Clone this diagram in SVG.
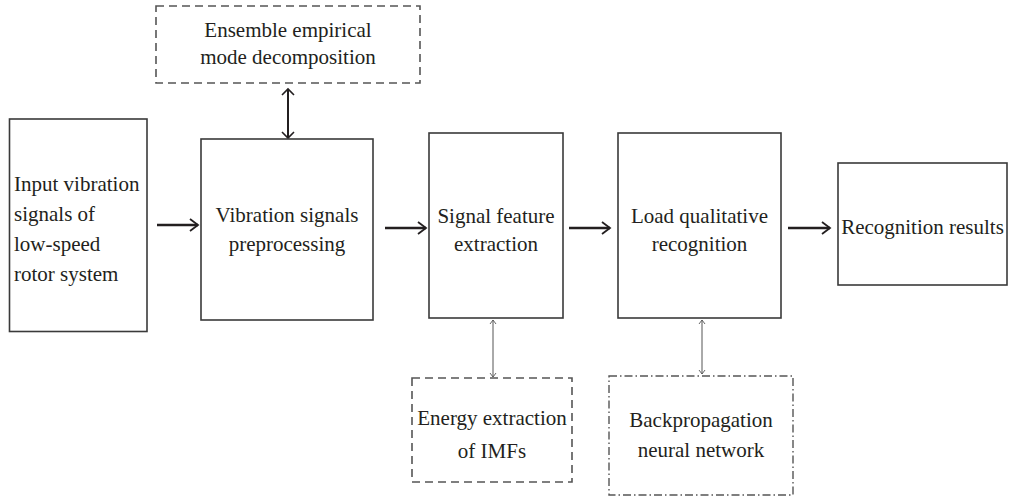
<svg xmlns="http://www.w3.org/2000/svg" width="1009" height="498" viewBox="0 0 1009 498">
  <style>
    .box { fill: #ffffff; stroke: #3a3a3a; stroke-width: 1.6; }
    .dash { fill: #ffffff; stroke: #555555; stroke-width: 1.6; stroke-dasharray: 8 5; }
    .dashdot { fill: #ffffff; stroke: #555555; stroke-width: 1.4; stroke-dasharray: 8 3 1.5 3; }
    .t { font-family: "Liberation Serif", "Times New Roman", serif; font-size: 21px; fill: #231f20; }
    .c { text-anchor: middle; }
    .thick { stroke: #231f20; stroke-width: 2.6; fill: none; }
    .mid { stroke: #231f20; stroke-width: 2; fill: none; }
    .thin { stroke: #555555; stroke-width: 1; fill: none; }
  </style>
  <defs>
    <marker id="ah" markerUnits="userSpaceOnUse" markerWidth="12" markerHeight="14" refX="9" refY="7" orient="auto" overflow="visible">
      <path d="M1,1 L9,7 L1,13" fill="none" stroke="#231f20" stroke-width="1.8"/>
    </marker>
    <marker id="am" markerUnits="userSpaceOnUse" markerWidth="12" markerHeight="14" refX="7" refY="7" orient="auto-start-reverse" overflow="visible">
      <path d="M1,1 L7,7 L1,13" fill="none" stroke="#231f20" stroke-width="1.6"/>
    </marker>
    <marker id="as" markerUnits="userSpaceOnUse" markerWidth="8" markerHeight="8" refX="5" refY="3.5" orient="auto-start-reverse" overflow="visible">
      <path d="M1,0.5 L5,3.5 L1,6.5" fill="none" stroke="#555555" stroke-width="0.9"/>
    </marker>
  </defs>

  <g id="connectors">
    <line class="thick" x1="157" y1="225" x2="198" y2="225" marker-end="url(#ah)"/>
    <line class="thick" x1="385" y1="228" x2="426" y2="228" marker-end="url(#ah)"/>
    <line class="thick" x1="569" y1="228" x2="610" y2="228" marker-end="url(#ah)"/>
    <line class="thick" x1="788" y1="228" x2="830" y2="228" marker-end="url(#ah)"/>
    <line class="mid" x1="288" y1="89" x2="288" y2="138" marker-start="url(#am)" marker-end="url(#am)"/>
    <line class="thin" x1="493" y1="320" x2="493" y2="377" marker-start="url(#as)" marker-end="url(#as)"/>
    <line class="thin" x1="702" y1="320" x2="702" y2="374" marker-start="url(#as)" marker-end="url(#as)"/>
  </g>

  <g id="node-eemd">
    <rect class="dash" x="156" y="6" width="264" height="77"/>
    <text class="t c" x="288" y="37">Ensemble empirical</text>
    <text class="t c" x="288" y="64">mode decomposition</text>
  </g>

  <g id="node-input">
    <rect class="box" x="9.5" y="119" width="137.5" height="212.5"/>
    <text class="t" x="14" y="191">Input vibration</text>
    <text class="t" x="14" y="221">signals of</text>
    <text class="t" x="14" y="251">low-speed</text>
    <text class="t" x="14" y="281">rotor system</text>
  </g>

  <g id="node-preprocessing">
    <rect class="box" x="201" y="139" width="172" height="181"/>
    <text class="t c" x="287" y="222">Vibration signals</text>
    <text class="t c" x="287" y="251">preprocessing</text>
  </g>

  <g id="node-feature">
    <rect class="box" x="429" y="133" width="134" height="185"/>
    <text class="t c" x="496" y="223">Signal feature</text>
    <text class="t c" x="496" y="251">extraction</text>
  </g>

  <g id="node-load">
    <rect class="box" x="618" y="133" width="163" height="185"/>
    <text class="t c" x="699.5" y="223">Load qualitative</text>
    <text class="t c" x="699.5" y="251">recognition</text>
  </g>

  <g id="node-results">
    <rect class="box" x="838" y="163" width="169" height="122"/>
    <text class="t c" x="922.5" y="234">Recognition results</text>
  </g>

  <g id="node-energy">
    <rect class="dash" x="412" y="378" width="160" height="104"/>
    <text class="t c" x="492" y="425">Energy extraction</text>
    <text class="t c" x="492" y="458">of IMFs</text>
  </g>

  <g id="node-bp">
    <rect class="dashdot" x="609" y="376" width="184" height="119"/>
    <text class="t c" x="701" y="427">Backpropagation</text>
    <text class="t c" x="701" y="457">neural network</text>
  </g>
</svg>
